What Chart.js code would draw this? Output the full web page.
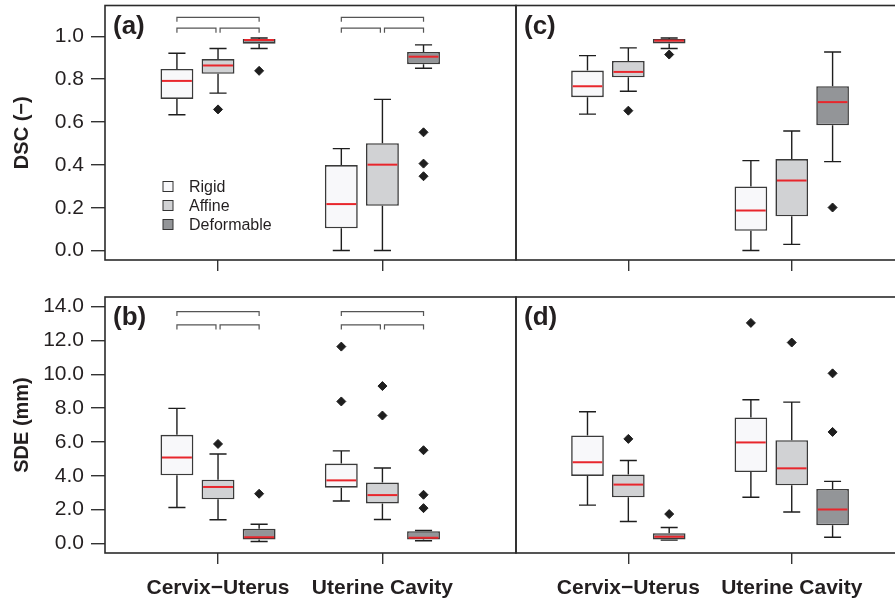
<!DOCTYPE html>
<html lang="en">
<head>
  <meta charset="UTF-8">
  <title>DSC and SDE box plots</title>
  <script src="https://cdn.jsdelivr.net/npm/chart.js@4.4.0/dist/chart.umd.min.js"></script>
  <style>
    html, body { margin: 0; padding: 0; background: #fff; overflow: hidden; }
    #wrap { position: relative; width: 895px; height: 604px; overflow: hidden; }
    #wrap canvas { position: absolute; left: 0; top: 0; }
  </style>
</head>
<body>
  <div id="wrap">
    <canvas id="pa" width="930" height="604"></canvas>
    <canvas id="pb" width="930" height="604"></canvas>
    <canvas id="pc" width="930" height="604"></canvas>
    <canvas id="pd" width="930" height="604"></canvas>
  </div>
  <script>
    const groups = ['Cervix\u2212Uterus', 'Uterine Cavity'];
    const methods = ['Rigid', 'Affine', 'Deformable'];
    const methodFill = ['#f8f8fa', '#d1d2d4', '#939598'];

    // each row: [whisker low, Q1, median, Q3, whisker high]
    // order: CU Rigid, CU Affine, CU Deformable, UC Rigid, UC Affine, UC Deformable
    const dscA = [
      [0.634, 0.708, 0.792, 0.848, 0.921],
      [0.735, 0.825, 0.864, 0.894, 0.943],
      [0.943, 0.966, 0.983, 0.988, 0.992],
      [0.000, 0.104, 0.217, 0.399, 0.476],
      [0.000, 0.209, 0.401, 0.501, 0.706],
      [0.851, 0.870, 0.905, 0.927, 0.960]
    ];
    const dscAOut = [[], [0.659], [0.839], [], [], [0.552, 0.406, 0.347]];

    const dscC = [
      [0.637, 0.716, 0.767, 0.840, 0.910],
      [0.744, 0.809, 0.834, 0.885, 0.946],
      [0.943, 0.967, 0.980, 0.988, 0.992],
      [0.000, 0.092, 0.187, 0.299, 0.420],
      [0.029, 0.160, 0.327, 0.427, 0.558],
      [0.415, 0.585, 0.693, 0.767, 0.927]
    ];
    const dscCOut = [[], [0.653], [0.915], [], [], [0.201]];

    const sdeB = [
      [2.13, 4.03, 5.08, 6.42, 7.98],
      [1.40, 2.61, 3.34, 3.77, 5.29],
      [0.12, 0.24, 0.37, 0.87, 1.14],
      [2.51, 3.30, 3.73, 4.72, 5.47],
      [1.42, 2.37, 2.86, 3.60, 4.46],
      [0.16, 0.24, 0.34, 0.73, 0.77]
    ];
    const sdeBOut = [[], [5.88], [2.94], [11.63, 8.39], [9.30, 7.56], [5.51, 2.88, 2.09]];

    const sdeD = [
      [2.27, 3.99, 4.80, 6.38, 7.78],
      [1.30, 2.73, 3.48, 4.07, 4.90],
      [0.20, 0.24, 0.40, 0.61, 0.95],
      [2.73, 4.22, 5.97, 7.45, 8.49],
      [1.86, 3.44, 4.44, 6.10, 8.35],
      [0.37, 1.08, 2.01, 3.22, 3.67]
    ];
    const sdeDOut = [[], [6.18], [1.74], [13.03], [11.87], [10.05, 6.59]];

    const dscTicks = [0, 0.2, 0.4, 0.6, 0.8, 1.0];
    const sdeTicks = [0, 2, 4, 6, 8, 10, 12, 14];

    // significance brackets (method index pairs) and their heights
    const bracketPairs = [[0, 2], [0, 1], [1, 2]];
    const dscBracketLevels = [1.089, 1.038];
    const sdeBracketLevels = [13.70, 12.91];

    const FONT = '"Liberation Sans", Arial, Helvetica, sans-serif';
    const INK = '#231f20';

    const xOf = (g, m) => g * 4 + m + 1;

    function boxPlugin(p) {
      return {
        id: 'boxplot',
        beforeDatasetsDraw(chart) {
          const { ctx } = chart;
          const y = chart.scales.y;
          const bars = chart.getDatasetMeta(0).data;
          ctx.save();
          ctx.strokeStyle = '#1e1e1e';
          ctx.lineWidth = 1.4;
          p.stats.forEach((s, i) => {
            const b = bars[i];
            const cap = b.width * 0.26;
            ctx.beginPath();
            ctx.moveTo(b.x, y.getPixelForValue(s[0]));
            ctx.lineTo(b.x, y.getPixelForValue(s[1]));
            ctx.moveTo(b.x, y.getPixelForValue(s[3]));
            ctx.lineTo(b.x, y.getPixelForValue(s[4]));
            ctx.moveTo(b.x - cap, y.getPixelForValue(s[0]));
            ctx.lineTo(b.x + cap, y.getPixelForValue(s[0]));
            ctx.moveTo(b.x - cap, y.getPixelForValue(s[4]));
            ctx.lineTo(b.x + cap, y.getPixelForValue(s[4]));
            ctx.stroke();
          });
          ctx.restore();
        },
        afterDatasetsDraw(chart) {
          const { ctx, chartArea: ca } = chart;
          const x = chart.scales.x, y = chart.scales.y;
          const bars = chart.getDatasetMeta(0).data;
          ctx.save();

          // medians
          ctx.strokeStyle = '#e8262c';
          ctx.lineWidth = 2;
          p.stats.forEach((s, i) => {
            const b = bars[i];
            const yy = y.getPixelForValue(s[2]);
            ctx.beginPath();
            ctx.moveTo(b.x - b.width / 2 + 1.5, yy);
            ctx.lineTo(b.x + b.width / 2 - 1.5, yy);
            ctx.stroke();
          });

          // brackets
          if (p.brackets) {
            ctx.strokeStyle = '#555';
            ctx.lineWidth = 1.2;
            groups.forEach((g, gi) => {
              bracketPairs.forEach((pair, k) => {
                const lvl = k === 0 ? p.brackets[0] : p.brackets[1];
                let x0 = xOf(gi, pair[0]), x1 = xOf(gi, pair[1]);
                if (k === 1) x1 -= 0.05;
                if (k === 2) x0 += 0.05;
                const px0 = x.getPixelForValue(x0), px1 = x.getPixelForValue(x1);
                const py = y.getPixelForValue(lvl);
                ctx.beginPath();
                ctx.moveTo(px0, py + 4.5);
                ctx.lineTo(px0, py);
                ctx.lineTo(px1, py);
                ctx.lineTo(px1, py + 4.5);
                ctx.stroke();
              });
            });
          }

          // frame
          ctx.strokeStyle = '#2b2b2b';
          ctx.lineWidth = 1.6;
          ctx.strokeRect(ca.left, ca.top, ca.right - ca.left, ca.bottom - ca.top);

          // panel label
          ctx.fillStyle = INK;
          ctx.font = 'bold 26px ' + FONT;
          ctx.textBaseline = 'middle';
          ctx.textAlign = 'left';
          ctx.fillText(p.label, ca.left + 8, ca.top + 21);

          // legend
          if (p.legend) {
            ctx.font = '16px ' + FONT;
            methods.forEach((m, i) => {
              const cy = ca.top + 181 + i * 19;
              ctx.fillStyle = methodFill[i];
              ctx.fillRect(ca.left + 58, cy - 5, 10, 10);
              ctx.strokeStyle = '#333';
              ctx.lineWidth = 1;
              ctx.strokeRect(ca.left + 58, cy - 5, 10, 10);
              ctx.fillStyle = INK;
              ctx.fillText(m, ca.left + 84, cy + 1);
            });
          }
          ctx.restore();
        }
      };
    }

    function makePanel(id, p) {
      const boxes = [], colors = [], pts = [];
      p.stats.forEach((s, i) => {
        const g = Math.floor(i / 3), m = i % 3;
        boxes.push({ x: xOf(g, m), y: [s[1], s[3]] });
        colors.push(methodFill[m]);
        p.outliers[i].forEach(v => pts.push({ x: xOf(g, m), y: v }));
      });
      const W = 930, H = 604;
      const xH = p.showX ? 51 : 20;

      new Chart(document.getElementById(id), {
        type: 'bar',
        data: {
          datasets: [
            {
              type: 'bar',
              data: boxes,
              backgroundColor: colors,
              borderColor: '#3a3a3a',
              borderWidth: 1.6,
              borderSkipped: false,
              barPercentage: 0.8,
              categoryPercentage: 1,
              grouped: false,
              order: 2
            },
            {
              type: 'scatter',
              data: pts,
              pointStyle: 'rectRot',
              pointRadius: 4.5,
              backgroundColor: '#1e1e1e',
              borderColor: '#1e1e1e',
              borderWidth: 1,
              order: 1
            }
          ]
        },
        options: {
          responsive: false,
          animation: false,
          events: [],
          layout: {
            padding: {
              left: p.showY ? 0 : p.area.left,
              top: p.area.top,
              right: W - p.area.right,
              bottom: H - p.area.bottom - xH
            }
          },
          plugins: { legend: { display: false }, tooltip: { enabled: false } },
          scales: {
            x: {
              type: 'linear',
              min: -0.75,
              max: 9.25,
              offset: false,
              afterBuildTicks: s => { s.ticks = groups.map((g, i) => ({ value: xOf(i, 1) })); },
              afterFit: s => { s.height = xH; s.paddingLeft = 0; s.paddingRight = 0; },
              grid: { drawOnChartArea: false, drawTicks: true, tickLength: 11, color: '#333', lineWidth: 1.4, offset: false },
              border: { display: false },
              ticks: {
                display: p.showX,
                padding: 12,
                maxRotation: 0,
                autoSkip: false,
                color: INK,
                font: { family: FONT, size: 21, weight: 'bold' },
                callback: (v, i) => groups[i]
              }
            },
            y: {
              type: 'linear',
              display: p.showY,
              min: p.ymin,
              max: p.ymax,
              afterBuildTicks: s => { s.ticks = p.ticks.map(v => ({ value: v })); },
              afterFit: s => { s.width = p.showY ? 105 : 0; s.paddingTop = 0; s.paddingBottom = 0; },
              grid: { drawOnChartArea: false, drawTicks: true, tickLength: 14, color: '#333', lineWidth: 1.4 },
              border: { display: false },
              ticks: {
                padding: 7,
                color: INK,
                font: { family: FONT, size: 21 },
                callback: v => v.toFixed(1)
              },
              title: {
                display: p.showY,
                text: p.yTitle,
                color: INK,
                font: { family: FONT, size: 20, weight: 'bold' },
                padding: { top: 10, bottom: 0 }
              }
            }
          }
        },
        plugins: [boxPlugin(p)]
      });
    }

    makePanel('pa', {
      stats: dscA, outliers: dscAOut, ticks: dscTicks, ymin: -0.044, ymax: 1.144,
      label: '(a)', yTitle: 'DSC (\u2212)', showY: true, showX: false, legend: true,
      brackets: dscBracketLevels, area: { left: 105, top: 5, right: 516, bottom: 260 }
    });
    makePanel('pb', {
      stats: sdeB, outliers: sdeBOut, ticks: sdeTicks, ymin: -0.56, ymax: 14.56,
      label: '(b)', yTitle: 'SDE (mm)', showY: true, showX: true, legend: false,
      brackets: sdeBracketLevels, area: { left: 105, top: 297, right: 516, bottom: 553 }
    });
    makePanel('pc', {
      stats: dscC, outliers: dscCOut, ticks: dscTicks, ymin: -0.044, ymax: 1.144,
      label: '(c)', yTitle: '', showY: false, showX: false, legend: false,
      brackets: null, area: { left: 516, top: 5, right: 927, bottom: 260 }
    });
    makePanel('pd', {
      stats: sdeD, outliers: sdeDOut, ticks: sdeTicks, ymin: -0.56, ymax: 14.56,
      label: '(d)', yTitle: '', showY: false, showX: true, legend: false,
      brackets: null, area: { left: 516, top: 297, right: 927, bottom: 553 }
    });
  </script>
</body>
</html>
